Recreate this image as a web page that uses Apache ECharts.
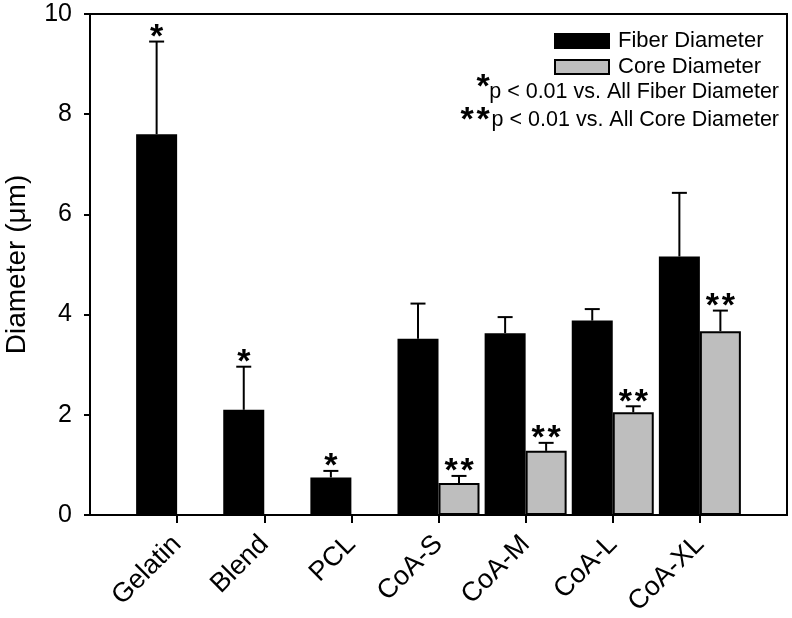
<!DOCTYPE html>
<html>
<head>
<meta charset="utf-8">
<script src="https://cdn.jsdelivr.net/npm/echarts@6/dist/echarts.min.js"></script>
<style>
html,body{margin:0;padding:0;background:#fff;}
#chart{width:792px;height:618px;}
</style>
</head>
<body>
<div id="chart"></div>
<script>
var categories = ['Gelatin', 'Blend', 'PCL', 'CoA-S', 'CoA-M', 'CoA-L', 'CoA-XL'];
var fiberDiameter = [7.6, 2.1, 0.75, 3.52, 3.63, 3.88, 5.16];
var fiberError = [1.85, 0.86, 0.13, 0.7, 0.32, 0.23, 1.27];
var coreDiameter = [null, null, null, 0.64, 1.28, 2.05, 3.67];
var coreError = [null, null, null, 0.14, 0.16, 0.12, 0.41];
var fiberSig = ['*', '*', '*', '', '', '', ''];
var coreSig = ['', '', '', '**', '**', '**', '**'];
var yTicks = [0, 2, 4, 6, 8, 10];

var FONT = '"Liberation Sans", Arial, Helvetica, sans-serif';
var STAR_FONT = 'bold 34px ' + FONT;
var BAR_W = 41;
var STAR_STEP = 16;

var axisCats = [''].concat(categories, ['']);
function pad(arr) { return ['-'].concat(arr.map(function (v) { return v == null ? '-' : v; }), ['-']); }

function errData(means, errs) {
  var out = [];
  means.forEach(function (m, i) {
    if (m != null) out.push([i + 1, m, errs[i], i]);
  });
  return out;
}

function starGlyphs(str, cx, cy) {
  var n = str.length, out = [];
  for (var j = 0; j < n; j++) {
    out.push({type: 'text', x: cx + (j - (n - 1) / 2) * STAR_STEP, y: cy,
      style: {text: str.charAt(j), fill: '#000', font: STAR_FONT, align: 'center', verticalAlign: 'middle'}});
  }
  return out;
}

function makeErrRender(offset, sig) {
  return function (params, api) {
    var idx = api.value(0), m = api.value(1), e = api.value(2), k = api.value(3);
    var base = api.coord([idx, m]);
    var top = api.coord([idx, m + e]);
    var x = base[0] + offset;
    var children = [
      {type: 'line', shape: {x1: x, y1: base[1], x2: x, y2: top[1]}, style: {stroke: '#000', lineWidth: 2}},
      {type: 'line', shape: {x1: x - 7.5, y1: top[1], x2: x + 7.5, y2: top[1]}, style: {stroke: '#000', lineWidth: 2}}
    ];
    if (sig[k]) children = children.concat(starGlyphs(sig[k], x, top[1] - 4));
    return {type: 'group', children: children};
  };
}

var chart = echarts.init(document.getElementById('chart'));
chart.setOption({
  animation: false,
  backgroundColor: '#fff',
  textStyle: {fontFamily: FONT},
  grid: {left: 90, right: 5, top: 14, bottom: 103, containLabel: false, outerBoundsMode: 'none',
    show: true, borderColor: '#000', borderWidth: 2, backgroundColor: 'transparent'},
  legend: {
    orient: 'vertical', left: 549, top: 25, itemWidth: 54, itemHeight: 14, itemGap: 4,
    icon: 'rect',
    textStyle: {fontSize: 22, color: '#000', fontFamily: FONT, padding: [0, 0, 0, 4]},
    data: ['Fiber Diameter', 'Core Diameter']
  },
  xAxis: {
    type: 'category', data: axisCats, boundaryGap: false,
    axisLine: {lineStyle: {color: '#000', width: 2}},
    axisTick: {length: 8, lineStyle: {color: '#000', width: 2}, interval: function (i) { return i > 0 && i < axisCats.length - 1; }},
    axisLabel: {rotate: 45, fontSize: 27, color: '#000', margin: 25, fontFamily: FONT, interval: 0},
    splitLine: {show: false}
  },
  yAxis: {
    type: 'value', min: yTicks[0], max: yTicks[yTicks.length - 1], interval: 2,
    name: 'Diameter (\u03bcm)', nameLocation: 'middle', nameGap: 59, nameRotate: 90,
    nameTextStyle: {fontSize: 28, color: '#000', fontFamily: FONT},
    axisLine: {show: true, lineStyle: {color: '#000', width: 2}},
    axisTick: {show: true, length: 6, lineStyle: {color: '#000', width: 2}},
    axisLabel: {fontSize: 25, color: '#000', margin: 18, fontFamily: FONT},
    splitLine: {show: false}
  },
  series: [
    {name: 'Fiber Diameter', type: 'bar', data: pad(fiberDiameter), barWidth: BAR_W, barGap: '0%',
      itemStyle: {color: '#000', borderColor: '#000', borderWidth: 2}},
    {name: 'Core Diameter', type: 'bar', data: pad(coreDiameter), barWidth: BAR_W, barGap: '0%',
      itemStyle: {color: '#bebebe', borderColor: '#000', borderWidth: 2}},
    {type: 'custom', data: errData(fiberDiameter, fiberError), renderItem: makeErrRender(-BAR_W / 2, fiberSig), z: 5, silent: true},
    {type: 'custom', data: errData(coreDiameter, coreError), renderItem: makeErrRender(BAR_W / 2, coreSig), z: 5, silent: true}
  ],
  graphic: starGlyphs('*', 483, 88).concat(starGlyphs('**', 475, 121), [
    {type: 'text', x: 779, y: 92, style: {text: 'p < 0.01 vs. All Fiber Diameter', font: '21.5px ' + FONT, fill: '#000', align: 'right', verticalAlign: 'middle'}},
    {type: 'text', x: 779, y: 120, style: {text: 'p < 0.01 vs. All Core Diameter', font: '21.5px ' + FONT, fill: '#000', align: 'right', verticalAlign: 'middle'}}
  ])
});
</script>
</body>
</html>
